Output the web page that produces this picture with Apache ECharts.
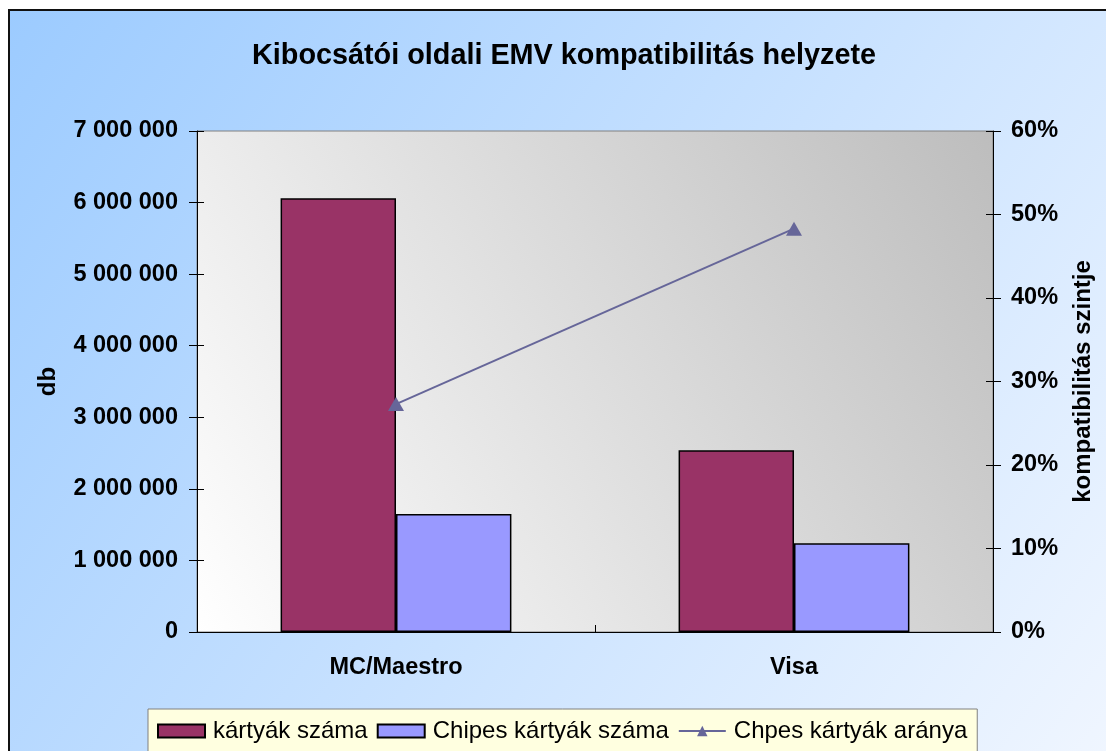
<!DOCTYPE html>
<html>
<head>
<meta charset="utf-8">
<script src="https://cdn.jsdelivr.net/npm/echarts@6/dist/echarts.min.js"></script>
<style>
  html, body { margin: 0; padding: 0; background: #fff; }
  #chart { width: 1106px; height: 751px; }
</style>
</head>
<body>
<div id="chart"></div>
<script>
// adatok
const categories = ['MC/Maestro', 'Visa'];
const kartyakSzama = [6060000, 2540000];
const chipesKartyakSzama = [1650000, 1240000];
const chipesArany = [27.3, 48.3]; // %
const leftTicks = { min: 0, max: 7000000, interval: 1000000 };
const rightTicks = { min: 0, max: 60, interval: 10 };

const chart = echarts.init(document.getElementById('chart'));

// 7000000 -> "7 000 000"
function spaced(v) {
    return String(v).replace(/\B(?=(\d{3})+(?!\d))/g, ' ');
}

const boldLabel = { color: '#000', fontSize: 23.5, fontWeight: 'bold', fontFamily: 'Liberation Sans' };
const nameStyle = { color: '#000', fontSize: 24, fontWeight: 'bold', fontFamily: 'Liberation Sans' };
const gridRect = { left: 197, right: 113, top: 131, bottom: 119 };

// a második (üres) grid csak a befelé álló osztásjeleket rajzolja,
// üres kategóriákkal, hogy a jelek a főtengelyek osztásaira essenek
const innerTick = { show: true, inside: true, length: 7, lineStyle: { color: '#000' } };
const leftSlots = new Array((leftTicks.max - leftTicks.min) / leftTicks.interval).fill('');
const rightSlots = new Array((rightTicks.max - rightTicks.min) / rightTicks.interval).fill('');

function tickOnlyAxis(extra) {
    return Object.assign({
        type: 'category',
        gridIndex: 1,
        axisLine: { show: false },
        axisTick: innerTick,
        axisLabel: { show: false },
        splitLine: { show: false }
    }, extra);
}

const option = {
    animation: false,
    backgroundColor: '#fff',
    graphic: [{
        type: 'rect',
        z: -10,
        shape: { x: 9, y: 10, width: 1120, height: 780 },
        style: {
            fill: {
                type: 'linear', x: 0, y: 0, x2: 1, y2: 1,
                colorStops: [{ offset: 0, color: '#9ccbff' }, { offset: 1, color: '#f2f7ff' }]
            },
            stroke: '#111',
            lineWidth: 2
        }
    }],
    title: {
        text: 'Kibocsátói oldali EMV kompatibilitás helyzete',
        left: 247,
        top: 37,
        textStyle: { color: '#000', fontSize: 28.8, fontWeight: 'bold', fontFamily: 'Liberation Sans' }
    },
    legend: {
        left: 148,
        top: 709,
        padding: [10, 10, 10, 9],
        itemWidth: 47,
        itemHeight: 13,
        itemGap: 9,
        backgroundColor: '#ffffe0',
        borderColor: '#808080',
        borderWidth: 1,
        borderRadius: 0,
        textStyle: { color: '#000', fontSize: 24, fontFamily: 'Liberation Sans', padding: [0, 0, 0, 3] },
        data: [
            { name: 'kártyák száma', icon: 'rect' },
            { name: 'Chipes kártyák száma', icon: 'rect' },
            { name: 'Chpes kártyák aránya' }
        ]
    },
    grid: [Object.assign({
        show: true,
        borderColor: '#808080',
        borderWidth: 1,
        backgroundColor: {
            type: 'linear', x: 0, y: 1, x2: 1, y2: 0,
            colorStops: [{ offset: 0, color: '#ffffff' }, { offset: 1, color: '#bdbdbd' }]
        }
    }, gridRect), Object.assign({ show: false }, gridRect)],
    xAxis: [{
        type: 'category',
        data: categories,
        axisLine: { lineStyle: { color: '#000', width: 1 } },
        axisTick: { length: 8, lineStyle: { color: '#000' } },
        axisLabel: Object.assign({ margin: 24 }, boldLabel)
    }, tickOnlyAxis({ data: categories })],
    yAxis: [{
        type: 'value',
        min: leftTicks.min, max: leftTicks.max, interval: leftTicks.interval,
        name: 'db',
        nameLocation: 'middle',
        nameRotate: 90,
        nameGap: 137,
        nameTextStyle: nameStyle,
        splitLine: { show: false },
        axisLine: { show: true, lineStyle: { color: '#000', width: 1 } },
        axisTick: { show: true, length: 8, lineStyle: { color: '#000' } },
        axisLabel: Object.assign({ margin: 19, formatter: spaced }, boldLabel)
    }, {
        type: 'value',
        position: 'right',
        min: rightTicks.min, max: rightTicks.max, interval: rightTicks.interval,
        name: 'kompatibilitás szintje',
        nameLocation: 'middle',
        nameRotate: 90,
        nameGap: 78,
        nameTextStyle: nameStyle,
        splitLine: { show: false },
        axisLine: { show: true, lineStyle: { color: '#000', width: 1 } },
        axisTick: { show: true, length: 8, lineStyle: { color: '#000' } },
        axisLabel: Object.assign({ margin: 18, formatter: '{value}%' }, boldLabel)
    }, tickOnlyAxis({ position: 'left', data: leftSlots }),
       tickOnlyAxis({ position: 'right', data: rightSlots })],
    series: [{
        name: 'kártyák száma',
        type: 'bar',
        yAxisIndex: 0,
        barGap: '0%',
        barCategoryGap: '42%',
        itemStyle: { color: '#993366', borderColor: '#000', borderWidth: 1.5 },
        data: kartyakSzama
    }, {
        name: 'Chipes kártyák száma',
        type: 'bar',
        yAxisIndex: 0,
        itemStyle: { color: '#9999ff', borderColor: '#000', borderWidth: 1.5 },
        data: chipesKartyakSzama
    }, {
        name: 'Chpes kártyák aránya',
        type: 'line',
        yAxisIndex: 1,
        symbol: 'triangle',
        symbolSize: [16, 14],
        lineStyle: { color: '#666699', width: 2 },
        itemStyle: { color: '#666699' },
        data: chipesArany
    }]
};

chart.setOption(option);
</script>
</body>
</html>
